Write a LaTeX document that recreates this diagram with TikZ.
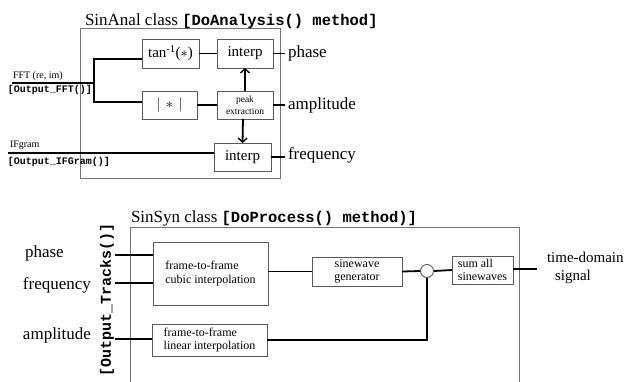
\documentclass[tikz,border=0pt]{standalone}
\usepackage{fontspec}
\setmainfont{Liberation Serif}
\setmonofont{Liberation Mono}
\usetikzlibrary{arrows.meta}
\newcommand{\fsz}[1]{\fontsize{#1}{#1}\selectfont}
\newcommand{\code}[1]{{\ttfamily\bfseries #1}}
\tikzset{
  blockbox/.style={draw=black!65, line width=0.9pt, inner sep=0pt, outer sep=0pt, align=center},
  panel/.style={draw=black!55, line width=0.9pt},
  wire/.style={line width=1.8pt, black},
  arrowwire/.style={wire, -{Straight Barb[length=4pt,width=9pt,line width=1.4pt]}},
  lbl/.style={inner sep=0pt, outer sep=0pt},
  small12/.style={font=\fontsize{12}{13.5}\selectfont},
}
\begin{document}
\begin{tikzpicture}[x=1pt,y=-1pt]
\useasboundingbox[fill=white] (0,0) rectangle (625,381);

% ---------- analysis stage ----------
\draw[panel] (80,28) rectangle (280,178);
\node[lbl, anchor=base west] (antitle) at (85,25)
  {\fsz{17}SinAnal class \fsz{15.5}\code{[DoAnalysis() method]}};

\node[blockbox, minimum width=57pt, minimum height=29pt] (tan) at (170.5,53.5)
  {\fsz{15}tan\textsuperscript{-1}($*$)};
\node[blockbox, minimum width=56pt, minimum height=29pt] (interpA) at (245,53.5)
  {\fsz{15}interp};
\node[blockbox, minimum width=55pt, minimum height=28pt] (absv) at (169.5,105)
  {\fsz{15}$\big|\,*\,\big|$};
\node[blockbox, minimum width=56pt, minimum height=28pt, font=\fontsize{9.5}{12}\selectfont] (peak) at (245,105)
  {peak\\extraction};
\node[blockbox, minimum width=57pt, minimum height=28pt] (interpB) at (242.5,157)
  {\fsz{15}interp};

\node[lbl, anchor=west, inner xsep=3pt] (phaseA) at (285,53.5) {\fsz{17}phase};
\node[lbl, anchor=west, inner xsep=3pt] (ampA) at (285,105) {\fsz{17}amplitude};
\node[lbl, anchor=west, inner xsep=3pt] (freqA) at (285,155) {\fsz{17}frequency};

\node[lbl, anchor=base west] (fftlbl) at (13,78) {\fsz{10}FFT (re, im)};
\node[lbl, anchor=base west] (fftcode) at (8,92) {\fsz{10}\code{[Output\_FFT()]}};
\node[lbl, anchor=base west] (iflbl) at (10,147) {\fsz{10}IFgram};
\node[lbl, anchor=base west] (ifcode) at (8,164) {\fsz{10}\code{[Output\_IFGram()]}};

\coordinate (fftin) at (12,83);
\coordinate (split) at (94,83);
\coordinate (upper) at (94,59);
\coordinate (lower) at (94,102);
\coordinate (ifin) at (8,153);

\draw[wire] (fftin) -- (split);
\draw[wire] (upper -| tan.west) -- (upper) -- (lower) -- (lower -| absv.west);
\draw[wire] (tan) -- (interpA);
\draw[wire] (absv) -- (peak);
\draw[wire] (interpA.east) -- (phaseA.west);
\draw[wire] (peak.east) -- (ampA.west);
\draw[wire] (interpB.east) -- (freqA.west |- interpB.east);
\draw[wire] (ifin) -- (ifin -| interpB.west);
\draw[arrowwire] (peak.north) -- (interpA.south);
\draw[arrowwire] ([xshift=-2pt]peak.south) -- (interpB.north);

% ---------- synthesis stage ----------
\draw[panel] (130,382) -- (130,227) -- (519,227) -- (519,382);
\node[lbl, anchor=base west] (syntitle) at (131,222)
  {\fsz{17}SinSyn class \fsz{15.5}\code{[DoProcess() method)]}};

\node[lbl, rotate=90] (trk) at (107,300) {\fsz{15}\code{[Output\_Tracks()]}};

\node[blockbox, small12, minimum width=115pt, minimum height=63pt, align=left] (cubic) at (210.5,273.5)
  {frame-to-frame\\cubic interpolation};
\node[blockbox, small12, minimum width=115pt, minimum height=32pt, align=left] (linear) at (209.5,340)
  {frame-to-frame\\linear interpolation};
\node[blockbox, small12, minimum width=90pt, minimum height=29pt] (gen) at (357,271.5)
  {sinewave\\generator};
\node[draw=black!65, line width=0.9pt, circle, inner sep=0pt, minimum size=13pt] (mix) at (427,271) {};
\node[blockbox, small12, minimum width=61pt, minimum height=28pt, align=left] (sum) at (482.5,270)
  {sum all\\sinewaves};

\node[lbl, anchor=west] (phaseS) at (25,253) {\fsz{17}phase};
\node[lbl, anchor=west] (freqS) at (23,285) {\fsz{17}frequency};
\node[lbl, anchor=west] (ampS) at (23,335) {\fsz{17}amplitude};

\node[lbl, anchor=west, align=left, font=\fontsize{15}{17.5}\selectfont] (tds) at (547,268)
  {time-domain\\\hspace{8pt}signal};

\coordinate (phin) at (115,255);
\coordinate (frin) at (115,283);
\coordinate (amin) at (115,339);
\coordinate (outend) at (537,269);

\draw[wire] (phin) -- (phin -| cubic.west);
\draw[wire] (frin) -- (frin -| cubic.west);
\draw[wire] (amin) -- (amin -| linear.west);
\draw[wire] (cubic.east |- gen.west) -- (gen.west);
\draw[wire] (gen.east) -- (mix.west);
\draw[wire] (mix.east) -- (sum.west);
\draw[wire] (sum.east |- outend) -- (outend);
\draw[wire] (linear.east) -- (linear.east -| mix.south) -- (mix.south);
\end{tikzpicture}
\end{document}
